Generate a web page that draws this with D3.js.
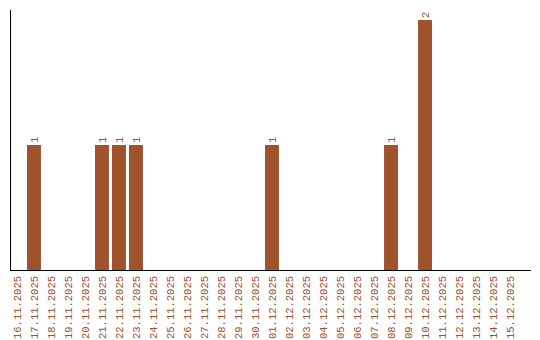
<!doctype html>
<html lang="en">
<head>
<meta charset="utf-8">
<script src="https://d3js.org/d3.v7.min.js"></script>
<style>
  body { margin: 0; background: #fff; }
  svg text { font-family: "Liberation Mono", monospace; font-size: 10.5px; fill: #a0522d; }
</style>
</head>
<body>
<div id="viz"></div>
<script>
// days on the x axis
const days = ["16.11.2025","17.11.2025","18.11.2025","19.11.2025","20.11.2025","21.11.2025",
  "22.11.2025","23.11.2025","24.11.2025","25.11.2025","26.11.2025","27.11.2025","28.11.2025",
  "29.11.2025","30.11.2025","01.12.2025","02.12.2025","03.12.2025","04.12.2025","05.12.2025",
  "06.12.2025","07.12.2025","08.12.2025","09.12.2025","10.12.2025","11.12.2025","12.12.2025",
  "13.12.2025","14.12.2025","15.12.2025"];
const counts = [0,1,0,0,0,1,1,1,0,0,0,0,0,0,0,1,0,0,0,0,0,0,1,0,2,0,0,0,0,0];

const width = 540, height = 340;
const color = "#a0522d";

const svg = d3.select("#viz").append("svg")
    .attr("width", width)
    .attr("height", height);

const x = d3.scaleBand()
    .domain(days)
    .range([10, 517])
    .paddingInner(0.18)
    .paddingOuter(0);

const y = d3.scaleLinear()
    .domain([0, 2])
    .range([270, 20]);

// bars
svg.append("g").selectAll("rect")
    .data(days)
    .join("rect")
    .attr("x", d => x(d))
    .attr("width", x.bandwidth())
    .attr("y", (d, i) => y(counts[i]))
    .attr("height", (d, i) => y(0) - y(counts[i]))
    .attr("fill", color);

// value labels
svg.append("g").selectAll("text")
    .data(days.filter((d, i) => counts[i] > 0))
    .join("text")
    .attr("transform", d => `translate(${x(d) + x.bandwidth() / 2},${y(counts[days.indexOf(d)]) - 2}) rotate(-90)`)
    .attr("dy", "0.35em")
    .text(d => counts[days.indexOf(d)]);

// axes lines
svg.append("line")
    .attr("x1", 10.5).attr("x2", 10.5)
    .attr("y1", 10).attr("y2", 270.5)
    .attr("stroke", "#000");
svg.append("line")
    .attr("x1", 10).attr("x2", 531)
    .attr("y1", 270.5).attr("y2", 270.5)
    .attr("stroke", "#000");

// day labels
svg.append("g").selectAll("text")
    .data(days)
    .join("text")
    .attr("transform", d => `translate(${x(d) + x.bandwidth() / 2},276) rotate(-90)`)
    .attr("text-anchor", "end")
    .attr("dy", "0.35em")
    .text(d => d);
</script>
</body>
</html>
